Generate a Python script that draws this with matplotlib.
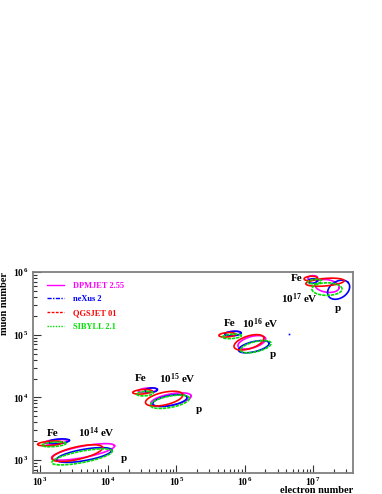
import numpy as np
import matplotlib
matplotlib.use('Agg')
import matplotlib.pyplot as plt
from matplotlib.ticker import FuncFormatter, LogLocator, NullFormatter
from matplotlib.lines import Line2D

plt.rcParams['font.family'] = ['Liberation Serif', 'DejaVu Serif']
plt.rcParams['font.weight'] = 'bold'
plt.rcParams['mathtext.fontset'] = 'custom'
plt.rcParams['mathtext.rm'] = 'Liberation Serif:bold'
plt.rcParams['mathtext.bf'] = 'Liberation Serif:bold'
plt.rcParams['mathtext.it'] = 'Liberation Serif:bold'

# ── 模型 ───────────────────────────────
models = ['DPMJET 2.55', 'neXus 2', 'QGSJET 01', 'SIBYLL 2.1']
colors = ['#ff00ff', '#0000ff', '#ff0000', '#00e000']
styles = ['-', (0, (3, 1, 1, 1)), (0, (2, 1)), (0, (1, 1))]
# 等高线本身几乎是实线
contour_styles = ['-', '-', '-', (0, (2, 0.6))]

energies = [14, 15, 16, 17]

# 等高线 (log10 Ne, log10 Nmu 空间的椭圆): 顺序 DPMJET, neXus, QGSJET, SIBYLL
# 质子 p
p_cx = {14: [3.635, 3.65, 3.55, 3.62],
        15: [4.92, 4.905, 4.82, 4.905],
        16: [6.10, 6.13, 6.06, 6.16],
        17: [7.20, 7.37, 7.17, 7.20]}
p_cy = {14: [3.13, 3.08, 3.11, 3.05],
        15: [3.965, 3.95, 3.98, 3.93],
        16: [4.88, 4.81, 4.88, 4.81],
        17: [5.78, 5.72, 5.84, 5.73]}
p_a = {14: [0.47, 0.41, 0.38, 0.45],
       15: [0.30, 0.255, 0.28, 0.29],
       16: [0.21, 0.23, 0.23, 0.23],
       17: [0.18, 0.18, 0.28, 0.22]}
p_b = {14: [0.09, 0.09, 0.10, 0.09],
       15: [0.09, 0.08, 0.10, 0.09],
       16: [0.09, 0.08, 0.10, 0.08],
       17: [0.10, 0.13, 0.06, 0.10]}
p_ang = {14: [12, 11, 14, 12],
         15: [12, 12, 14, 12],
         16: [18, 15, 20, 15],
         17: [-10, 40, 5, 0]}

# 铁核 Fe
fe_cx = {14: [3.24, 3.28, 3.15, 3.21],
         15: [4.58, 4.63, 4.50, 4.54],
         16: [5.825, 5.825, 5.74, 5.81],
         17: [6.99, 6.99, 6.96, 7.02]}
fe_cy = {14: [3.29, 3.30, 3.265, 3.25],
         15: [4.115, 4.115, 4.09, 4.06],
         16: [5.02, 5.02, 5.00, 4.975],
         17: [5.91, 5.86, 5.90, 5.85]}
fe_a = {14: [0.17, 0.155, 0.18, 0.175],
        15: [0.14, 0.09, 0.14, 0.12],
        16: [0.12, 0.12, 0.12, 0.14],
        17: [0.07, 0.07, 0.095, 0.10]}
fe_b = 0.035

# neXus 孤立点 (10^16 eV)
dot_ne = [10 ** 6.64]
dot_nmu = [10 ** 5.02]

# 标注位置 (Ne, Nmu)
fe_lab = {14: (1.57e3, 2.7e3), 15: (3.0e4, 2.0e4), 16: (5.9e5, 1.5e5), 17: (5.75e6, 7.8e5)}
e_lab = {14: (6.7e3, 2.7e3), 15: (1.05e5, 2.0e4), 16: (1.67e6, 1.5e5), 17: (6.3e6, 3.8e5)}
p_lab = {14: (1.71e4, 1.07e3), 15: (2.1e5, 6.3e3), 16: (2.57e6, 4.84e4), 17: (2.3e7, 2.6e5)}


def ellipse(cx, cy, a, b, ang):
    t = np.linspace(0, 2 * np.pi, 120)
    th = np.deg2rad(ang)
    x = cx + a * np.cos(t) * np.cos(th) - b * np.sin(t) * np.sin(th)
    y = cy + a * np.cos(t) * np.sin(th) + b * np.sin(t) * np.cos(th)
    return 10 ** x, 10 ** y


fig = plt.figure(figsize=(3.82, 4.94), dpi=100)
ax = fig.add_axes([0.0864, 0.0425, 0.8376, 0.4065])
ax.set_xscale('log')
ax.set_yscale('log')

for e in energies:
    for i in range(len(models)):
        x, y = ellipse(p_cx[e][i], p_cy[e][i], p_a[e][i], p_b[e][i], p_ang[e][i])
        ax.plot(x, y, color=colors[i], ls=contour_styles[i], lw=1.2)
        x, y = ellipse(fe_cx[e][i], fe_cy[e][i], fe_a[e][i], fe_b, 5)
        ax.plot(x, y, color=colors[i], ls=contour_styles[i], lw=1.2)
    ax.text(*fe_lab[e], 'Fe', ha='center', va='center', fontsize=8, fontweight='bold')
    ax.text(*e_lab[e], r'$10^{%d}$ eV' % e, ha='center', va='center', fontsize=8, fontweight='bold')
    ax.text(*p_lab[e], 'p', ha='center', va='center', fontsize=8, fontweight='bold')

ax.plot(dot_ne, dot_nmu, 's', color='#0000ff', ms=1.2, mew=0)

ax.set_xlim(800, 3.8e7)
ax.set_ylim(620, 1.0e6)

fmt = FuncFormatter(lambda v, p: r'$10^{\,%d}$' % round(np.log10(v)))
ax.xaxis.set_major_formatter(fmt)
ax.yaxis.set_major_formatter(fmt)
ax.xaxis.set_minor_locator(LogLocator(base=10, subs=np.arange(2, 10)))
ax.yaxis.set_minor_locator(LogLocator(base=10, subs=np.arange(2, 10)))
ax.xaxis.set_minor_formatter(NullFormatter())
ax.yaxis.set_minor_formatter(NullFormatter())
ax.tick_params(which='both', direction='in', top=False, right=False, labelsize=7, color='#333333')
ax.tick_params(which='major', length=6, width=0.8)
ax.tick_params(which='minor', length=3, width=0.8)
ax.tick_params(axis='x', pad=2)
ax.tick_params(axis='y', pad=3)
for s in ax.spines.values():
    s.set_color('#808080')
    s.set_linewidth(1.3)

ax.set_xlabel('electron number', loc='right', fontsize=7.5, fontweight='bold')
ax.set_ylabel('muon number', loc='top', fontsize=7.5, fontweight='bold')
ax.xaxis.set_label_coords(1.0, -0.065)
ax.yaxis.set_label_coords(-0.075, 1.0)

handles = [Line2D([], [], color=c, ls=s, lw=1.0) for c, s in zip(colors, styles)]
leg = ax.legend(handles, models, loc='upper left', bbox_to_anchor=(0.02, 0.99),
                frameon=False, fontsize=6, handlelength=2.0, handletextpad=1.1,
                labelspacing=0.68)
for t, c in zip(leg.get_texts(), colors):
    t.set_color(c)

plt.savefig('out.png', dpi=100)
plt.close()
